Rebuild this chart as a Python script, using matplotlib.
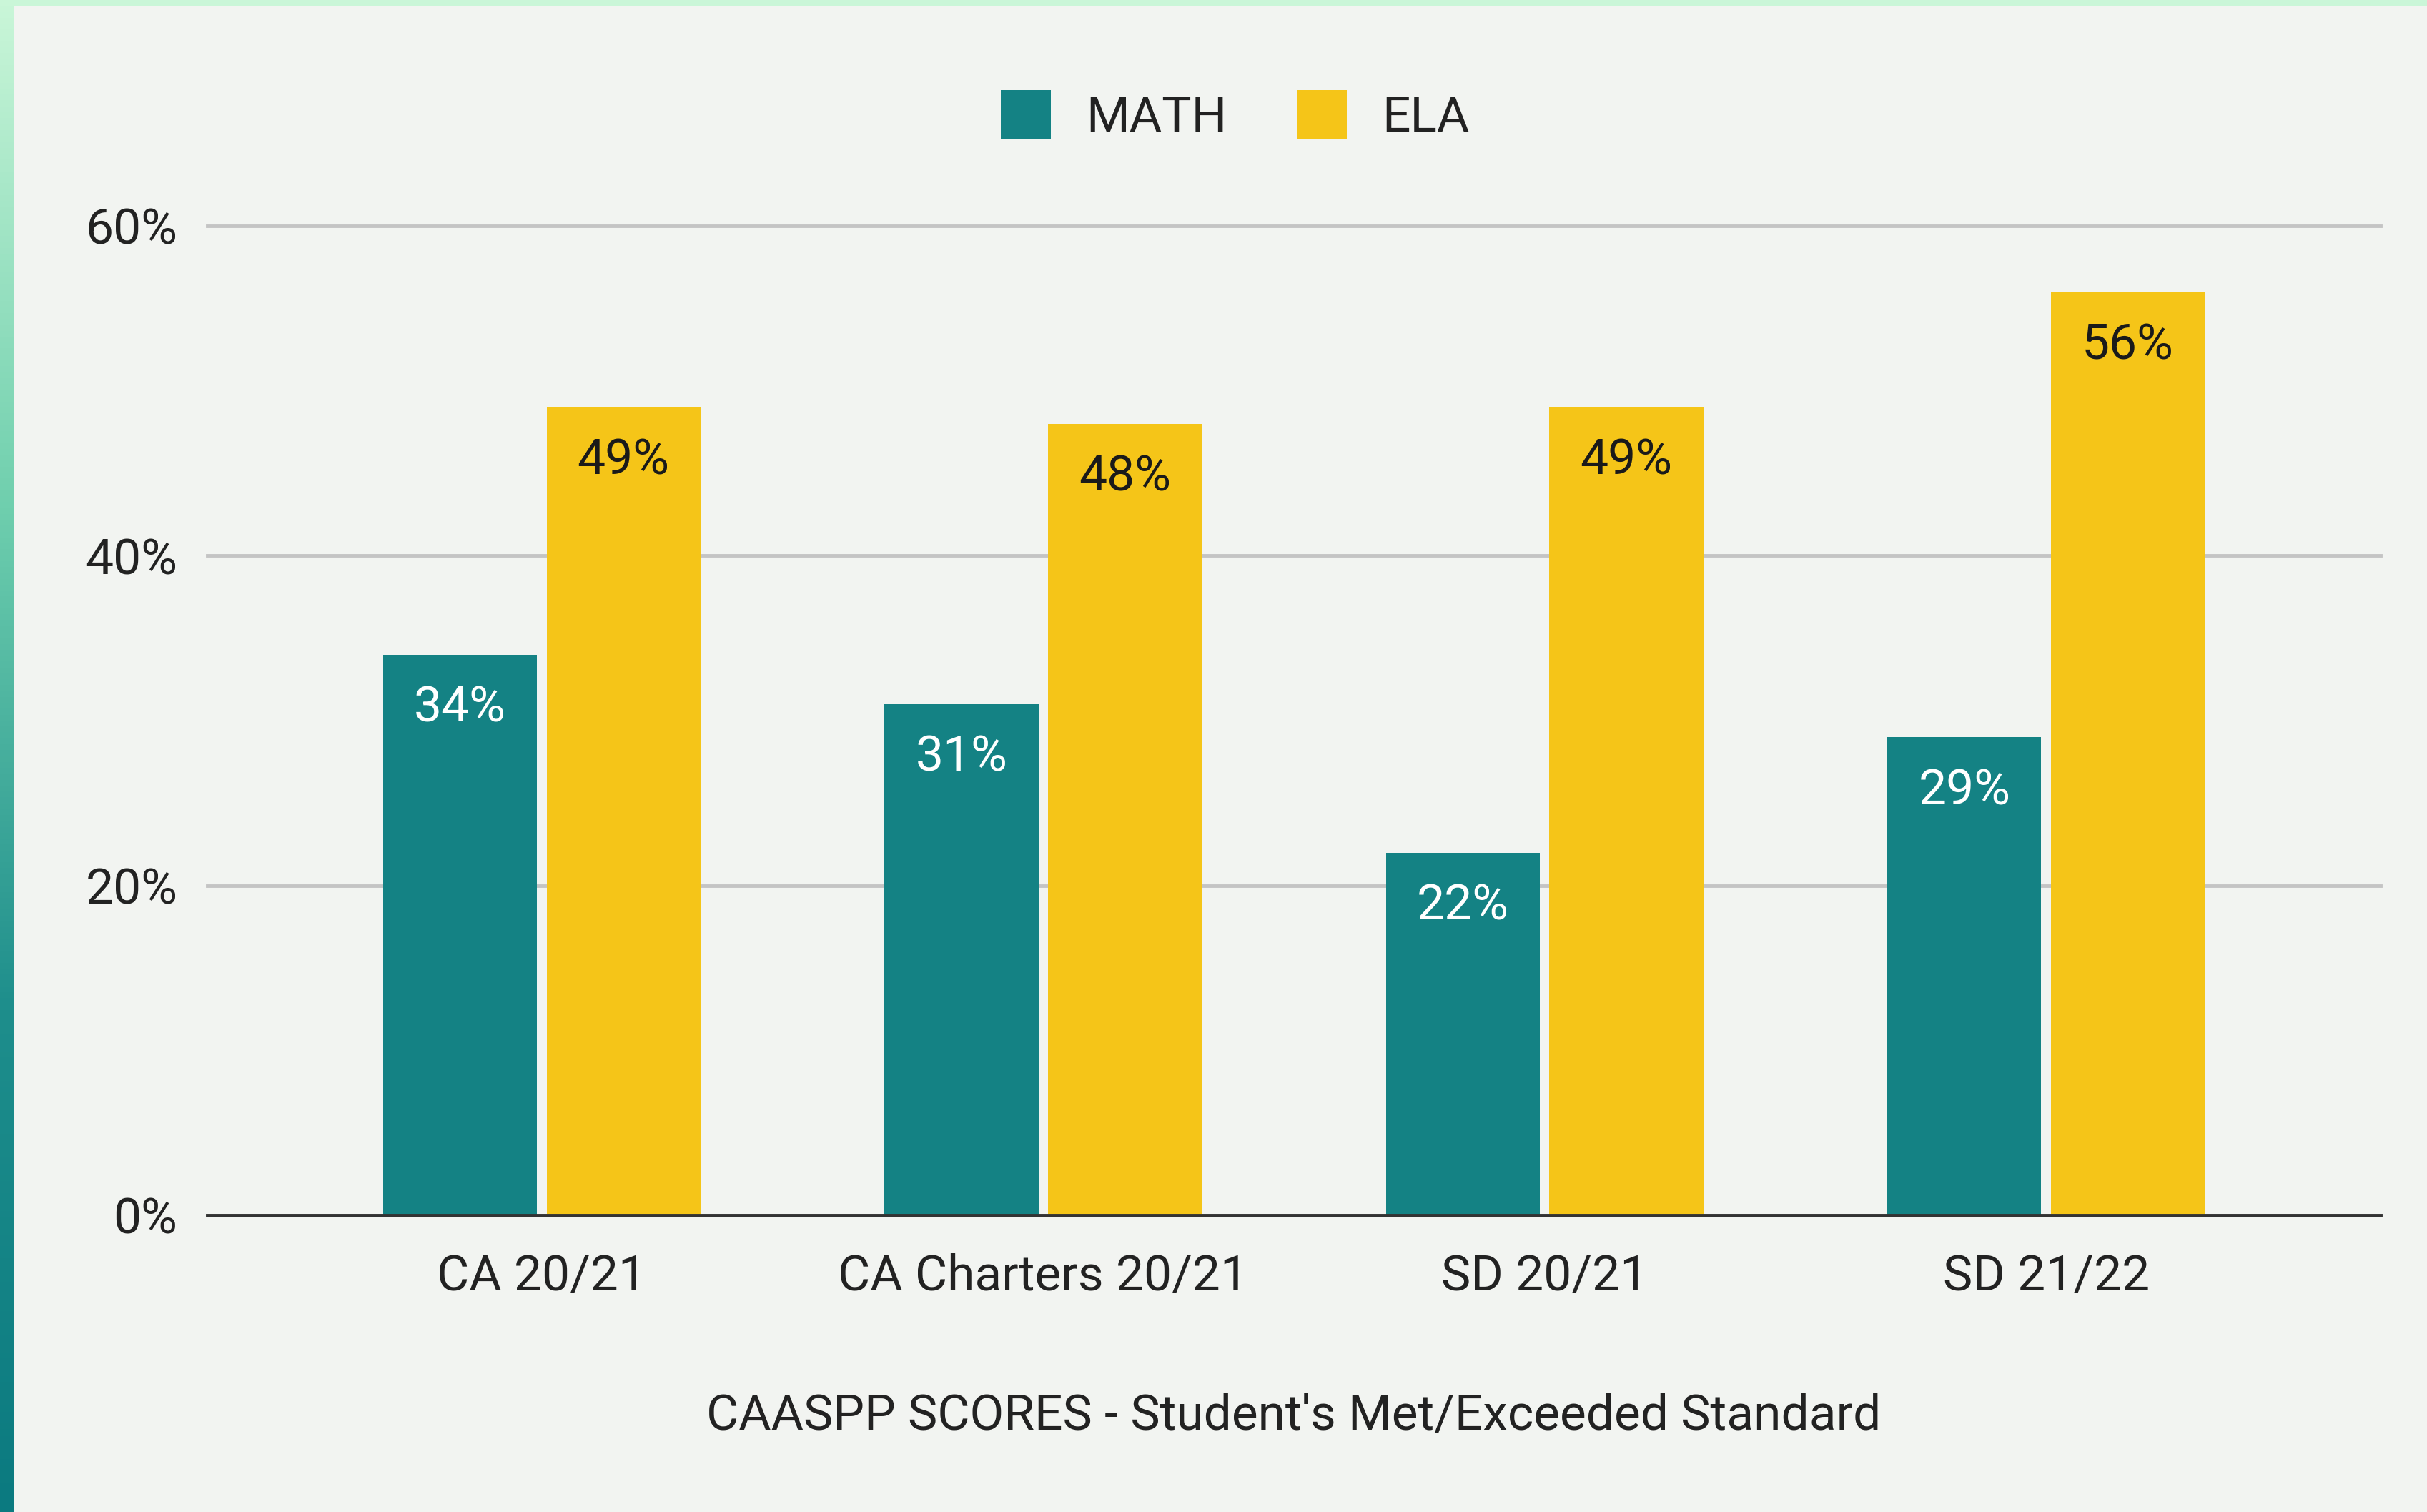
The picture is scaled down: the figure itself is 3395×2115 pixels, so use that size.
import matplotlib
matplotlib.use("Agg")
import matplotlib.pyplot as plt
import numpy as np
from matplotlib.colors import LinearSegmentedColormap

plt.rcParams['font.family'] = ['Roboto', 'DejaVu Sans']

categories = ['CA 20/21', 'CA Charters 20/21', 'SD 20/21', 'SD 21/22']
math_scores = [34, 31, 22, 29]
ela_scores = [49, 48, 49, 56]
y_ticks = [0, 20, 40, 60]

teal = '#148284'
yellow = '#f5c518'
bg = '#f2f4f1'
fs = 50

fig = plt.figure(figsize=(33.95, 21.15), dpi=100, facecolor=bg)

# decorative frame: top strip and left gradient
top = fig.add_axes([0, 1 - 8 / 2115, 1, 8 / 2115])
top.axis('off')
top.add_patch(plt.Rectangle((0, 0), 1, 1, color='#caf6d8', transform=top.transAxes))

strip = fig.add_axes([0, 0, 18 / 3395, 1])
cmap = LinearSegmentedColormap.from_list('strip', ['#0b7a80', '#1e8e8c', '#6fcfae', '#caf6d8'])
strip.imshow(np.linspace(0, 1, 256).reshape(-1, 1), aspect='auto', cmap=cmap, origin='lower')
strip.axis('off')

ax = fig.add_axes([290 / 3395, 1 - 1700 / 2115, (3330 - 290) / 3395, (1700 - 316) / 2115])
ax.set_facecolor(bg)

x = np.arange(len(categories))
w = 0.307
off = 0.163
b1 = ax.bar(x - off, math_scores, w, color=teal, label='MATH', zorder=3)
b2 = ax.bar(x + off, ela_scores, w, color=yellow, label='ELA', zorder=3)

for rect, v in zip(b1, math_scores):
    ax.annotate(f'{v}%', (rect.get_x() + rect.get_width() / 2, v), xytext=(0, -54),
                textcoords='offset points', ha='center', va='center',
                color='white', fontsize=fs, zorder=4)
for rect, v in zip(b2, ela_scores):
    ax.annotate(f'{v}%', (rect.get_x() + rect.get_width() / 2, v), xytext=(0, -54),
                textcoords='offset points', ha='center', va='center',
                color='#1a1a1a', fontsize=fs, zorder=4)

ax.set_xlim(-0.667, 3.667)
ax.set_ylim(0, 60)
ax.set_yticks(y_ticks)
ax.set_yticklabels([f'{t}%' for t in y_ticks], fontsize=fs, color='#222222')
ax.set_xticks(x)
ax.set_xticklabels(categories, fontsize=fs, color='#222222')
ax.tick_params(axis='both', length=0)
ax.tick_params(axis='y', pad=30)
ax.tick_params(axis='x', pad=38)
for s in ax.spines.values():
    s.set_visible(False)
ax.grid(axis='y', color='#c4c4c4', linewidth=3.5, zorder=1)
for gl in ax.get_ygridlines():
    gl.set_clip_on(False)
ax.axhline(0, color='#333333', linewidth=3.5, zorder=5, clip_on=False)

ax.set_xlabel("CAASPP SCORES - Student's Met/Exceeded Standard", fontsize=fs,
              color='#222222', labelpad=93)

fig.legend(loc='center', bbox_to_anchor=(1728 / 3395, 1 - 162 / 2115), ncol=2,
           frameon=False, fontsize=fs, handlelength=1.0, handleheight=1.15,
           handletextpad=0.72, columnspacing=1.4, labelcolor='#222222')

fig.savefig('out.png', dpi=100, facecolor=bg)
